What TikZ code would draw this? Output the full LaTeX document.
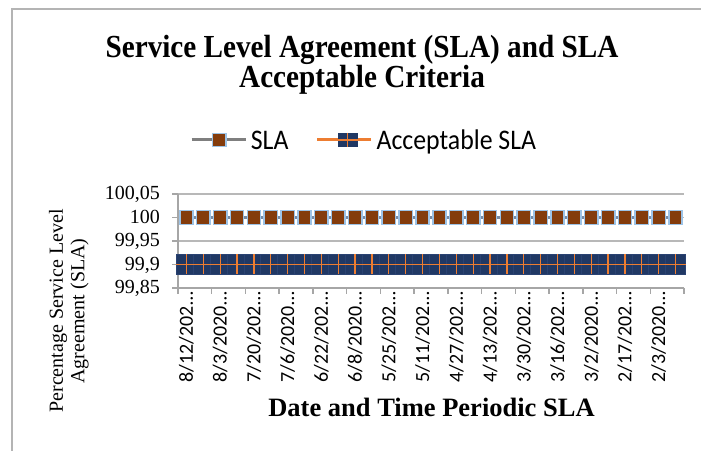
\documentclass[tikz,border=0pt]{standalone}
\usepackage{fontspec}
\setmainfont{Liberation Serif}
\newfontfamily\calibri{Carlito}
\definecolor{framegray}{HTML}{B4B4B4}
\definecolor{gridgray}{HTML}{B8B8B8}
\definecolor{axisgray}{HTML}{A6A6A6}
\definecolor{slaline}{HTML}{7F7F7F}
\definecolor{slajoin}{HTML}{7A8CA3}
\definecolor{slafill}{HTML}{843C0C}
\definecolor{slaedge}{HTML}{9DC3E6}
\definecolor{accfill}{HTML}{203864}
\definecolor{accedge}{HTML}{2A4272}
\definecolor{accline}{HTML}{ED7D31}
\newcommand{\tallish}[1]{\scalebox{1}[1.1]{#1}}
\tikzset{
  titletext/.style={font=\bfseries\fontsize{29.2bp}{30bp}\selectfont, inner sep=0pt, anchor=base},
  legendtext/.style={font=\calibri\fontsize{25.8bp}{27bp}\selectfont, inner sep=0pt, anchor=base west},
  ytick/.style={font=\fontsize{20bp}{22bp}\selectfont, inner sep=0pt, anchor=base east},
  xtick/.style={font=\calibri\fontsize{20bp}{22bp}\selectfont, inner sep=0pt, rotate=90, anchor=east},
  axistitle/.style={font=\bfseries\fontsize{26.5bp}{28bp}\selectfont, inner sep=0pt, anchor=base},
  ytitle/.style={font=\fontsize{20bp}{21.5bp}\selectfont, inner sep=0pt, rotate=90, align=center},
  gridline/.style={draw=gridgray, line width=1.5bp},
  axisline/.style={draw=axisgray, line width=1.5bp},
  slamark/.style={fill=slafill, draw=slaedge, line width=1.5bp},
  accmark/.style={fill=accfill, draw=accedge, line width=0.6bp},
  accstroke/.style={draw=accline, line width=1.3bp},
}
\begin{document}
\begin{tikzpicture}[x=1bp, y=-1bp]
\useasboundingbox (0,0) rectangle (701,451);
\fill[white] (0,0) rectangle (701,451);

% chart frame (runs off the right and bottom edges)
\draw[framegray, line width=1.2bp] (12,460) -- (12,9) -- (710,9);

% title
\node[titletext] (title1) at (362,58) {\tallish{Service Level Agreement (SLA) and SLA}};
\node[titletext] (title2) at (362,88) {\tallish{Acceptable Criteria}};

% legend
\draw[slaline, line width=3bp] (191.7,140) -- (246,140);
\draw[slamark] (212.5,133.3) rectangle (225.8,146.7);
\node[legendtext] (legsla) at (250.7,149.3) {\tallish{SLA}};
\draw[accline, line width=3bp] (317,140) -- (371,140);
\fill[accfill] (337.5,133) rectangle (357.5,147);
\draw[accstroke] (337.5,140) -- (357.5,140);
\draw[accstroke] (347.5,133) -- (347.5,147);
\node[legendtext] (legacc) at (376.4,149.3) {\tallish{Acceptable SLA}};

% gridlines
\foreach \gy in {194,217.5,241,264.5}
  \draw[gridline] (178,\gy) -- (684,\gy);

% axes and tick marks
\foreach \gy in {194,217.5,241,264.5,288}
  \draw[axisline] (172,\gy) -- (178,\gy);
\draw[axisline] (178,194) -- (178,288);
\draw[axisline] (172,288) -- (684,288);
\foreach \j in {0,...,15}
  \draw[axisline] ({178+33.7333*\j},288) -- ({178+33.7333*\j},294);

% y tick labels
\node[ytick] (y1) at (160,200) {100,05};
\node[ytick] (y2) at (160,223.5) {100};
\node[ytick] (y3) at (160,247) {99,95};
\node[ytick] (y4) at (160,270.5) {99,9};
\node[ytick] (y5) at (160,294) {99,85};

% SLA series at 100
\draw[slajoin, line width=3bp] (186.43,217.5) -- (675.57,217.5);
\foreach \k in {0,...,29}{
  \pgfmathsetmacro{\cx}{178+16.8667*(\k+0.5)}
  \draw[slamark] (\cx-6.65,210.6) rectangle (\cx+6.65,224.4);
}

% Acceptable SLA series at 99,9
\foreach \k in {0,...,29}{
  \pgfmathsetmacro{\cx}{178+16.8667*(\k+0.5)}
  \draw[accmark] (\cx-10,254.5) rectangle (\cx+10,274.5);
}
\draw[accstroke] (176.43,264.5) -- (685.57,264.5);
\foreach \k in {0,...,29}{
  \pgfmathsetmacro{\cx}{178+16.8667*(\k+0.5)}
  \draw[accstroke] (\cx,254.5) -- (\cx,274.5);
}

% date labels
\node[xtick] (d1)  at (186.43,292) {8/12/202…};
\node[xtick] (d2)  at (220.17,292) {8/3/2020…};
\node[xtick] (d3)  at (253.90,292) {7/20/202…};
\node[xtick] (d4)  at (287.63,292) {7/6/2020…};
\node[xtick] (d5)  at (321.37,292) {6/22/202…};
\node[xtick] (d6)  at (355.10,292) {6/8/2020…};
\node[xtick] (d7)  at (388.83,292) {5/25/202…};
\node[xtick] (d8)  at (422.57,292) {5/11/202…};
\node[xtick] (d9)  at (456.30,292) {4/27/202…};
\node[xtick] (d10) at (490.03,292) {4/13/202…};
\node[xtick] (d11) at (523.77,292) {3/30/202…};
\node[xtick] (d12) at (557.50,292) {3/16/202…};
\node[xtick] (d13) at (591.23,292) {3/2/2020…};
\node[xtick] (d14) at (624.97,292) {2/17/202…};
\node[xtick] (d15) at (658.70,292) {2/3/2020…};

% axis titles
\node[axistitle] (xtitle) at (431.5,416) {Date and Time Periodic SLA};
\node[ytitle] (ytitle) at (68.75,311) {Percentage Service Level\\Agreement (SLA)};
\end{tikzpicture}
\end{document}
